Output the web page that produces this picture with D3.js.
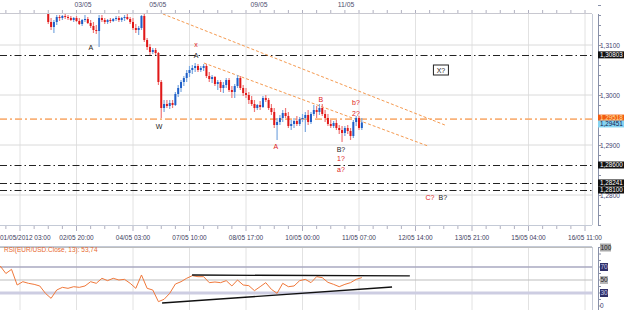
<!DOCTYPE html>
<html>
<head>
<meta charset="utf-8">
<title>EUR/USD</title>
<script src="https://cdnjs.cloudflare.com/ajax/libs/d3/7.8.5/d3.min.js"></script>
<style>
  body { margin: 0; background: #fff; }
  svg { display: block; font-family: "Liberation Sans", Arial, sans-serif; }
</style>
</head>
<body>
<svg id="chart" width="625" height="310"></svg>
<script>
// bar 0 = first grid line (01/05/2012 03:00), 20 bars per grid step
const firstBar = 10;
// [open, high, low, close]
const candles = [
  [1.3180,1.3184,1.3142,1.3146],[1.3146,1.3154,1.3130,1.3136],[1.3136,1.3150,1.3124,1.3146],[1.3146,1.3160,1.3140,1.3156],
  [1.3156,1.3160,1.3148,1.3154],[1.3154,1.3160,1.3150,1.3158],[1.3158,1.3162,1.3152,1.3156],[1.3156,1.3160,1.3150,1.3154],
  [1.3154,1.3158,1.3148,1.3150],[1.3150,1.3156,1.3146,1.3154],[1.3154,1.3158,1.3146,1.3148],[1.3148,1.3154,1.3140,1.3142],
  [1.3142,1.3152,1.3138,1.3150],[1.3150,1.3160,1.3146,1.3152],[1.3152,1.3156,1.3142,1.3144],[1.3144,1.3150,1.3134,1.3138],
  [1.3138,1.3146,1.3124,1.3130],[1.3130,1.3140,1.3122,1.3128],[1.3128,1.3160,1.3096,1.3154],[1.3154,1.3160,1.3146,1.3150],
  [1.3150,1.3154,1.3142,1.3146],[1.3146,1.3152,1.3142,1.3150],[1.3150,1.3154,1.3144,1.3148],[1.3148,1.3154,1.3146,1.3152],
  [1.3152,1.3158,1.3148,1.3154],[1.3154,1.3158,1.3146,1.3150],[1.3150,1.3156,1.3146,1.3154],[1.3154,1.3160,1.3148,1.3156],
  [1.3156,1.3162,1.3150,1.3152],[1.3152,1.3156,1.3142,1.3146],[1.3146,1.3154,1.3130,1.3134],[1.3134,1.3142,1.3124,1.3130],
  [1.3130,1.3138,1.3120,1.3134],[1.3134,1.3160,1.3130,1.3158],[1.3158,1.3162,1.3106,1.3110],[1.3110,1.3114,1.3090,1.3096],
  [1.3096,1.3102,1.3080,1.3086],[1.3086,1.3094,1.3082,1.3090],[1.3090,1.3094,1.3080,1.3084],[1.3084,1.3086,1.3020,1.3026],
  [1.3026,1.3030,1.2954,1.2974],[1.2974,1.2990,1.2966,1.2982],[1.2982,1.2990,1.2974,1.2978],[1.2978,1.2990,1.2972,1.2984],
  [1.2984,1.2990,1.2974,1.2980],[1.2980,1.3006,1.2978,1.3002],[1.3002,1.3020,1.2996,1.3014],[1.3014,1.3030,1.3006,1.3026],
  [1.3026,1.3038,1.3018,1.3034],[1.3034,1.3050,1.3026,1.3044],[1.3044,1.3058,1.3036,1.3050],[1.3050,1.3060,1.3042,1.3054],
  [1.3054,1.3064,1.3046,1.3058],[1.3058,1.3062,1.3046,1.3050],[1.3050,1.3058,1.3046,1.3054],[1.3054,1.3062,1.3048,1.3058],
  [1.3058,1.3062,1.3034,1.3038],[1.3038,1.3046,1.3026,1.3032],[1.3032,1.3040,1.3024,1.3036],[1.3036,1.3038,1.3018,1.3022],
  [1.3022,1.3030,1.3010,1.3026],[1.3026,1.3030,1.3006,1.3014],[1.3014,1.3026,1.3004,1.3020],[1.3020,1.3034,1.3014,1.3030],
  [1.3030,1.3034,1.3006,1.3010],[1.3010,1.3018,1.2994,1.3006],[1.3006,1.3022,1.2994,1.3018],[1.3018,1.3040,1.3014,1.3034],
  [1.3034,1.3038,1.3010,1.3014],[1.3014,1.3020,1.2998,1.3004],[1.3004,1.3014,1.2994,1.3000],[1.3000,1.3006,1.2982,1.2990],
  [1.2990,1.2998,1.2978,1.2982],[1.2982,1.2990,1.2966,1.2974],[1.2974,1.2982,1.2970,1.2980],[1.2980,1.2988,1.2970,1.2976],
  [1.2976,1.2998,1.2974,1.2994],[1.2994,1.3000,1.2986,1.2990],[1.2990,1.2994,1.2970,1.2974],[1.2974,1.2982,1.2960,1.2966],
  [1.2966,1.2974,1.2934,1.2940],[1.2940,1.2954,1.2910,1.2946],[1.2946,1.2960,1.2940,1.2954],[1.2954,1.2970,1.2946,1.2964],
  [1.2964,1.2974,1.2954,1.2958],[1.2958,1.2966,1.2934,1.2938],[1.2938,1.2950,1.2930,1.2942],[1.2942,1.2954,1.2934,1.2948],
  [1.2948,1.2958,1.2938,1.2942],[1.2942,1.2956,1.2938,1.2952],[1.2952,1.2962,1.2946,1.2954],[1.2954,1.2966,1.2926,1.2960],
  [1.2960,1.2970,1.2940,1.2946],[1.2946,1.2966,1.2942,1.2962],[1.2962,1.2980,1.2958,1.2970],[1.2970,1.2978,1.2954,1.2966],
  [1.2966,1.2982,1.2960,1.2974],[1.2974,1.2982,1.2958,1.2962],[1.2962,1.2970,1.2946,1.2954],[1.2954,1.2962,1.2938,1.2942],
  [1.2942,1.2950,1.2934,1.2938],[1.2938,1.2948,1.2934,1.2944],[1.2944,1.2950,1.2930,1.2934],[1.2934,1.2940,1.2922,1.2930],
  [1.2930,1.2938,1.2906,1.2924],[1.2924,1.2938,1.2918,1.2934],[1.2934,1.2940,1.2922,1.2928],[1.2928,1.2934,1.2910,1.2918],
  [1.2918,1.2950,1.2914,1.2946],[1.2946,1.2958,1.2938,1.2954],[1.2954,1.2958,1.2930,1.2934],[1.2934,1.2954,1.2930,1.2945]
];

// RSI(13) sampled every 2 bars starting at bar -7
const rsiStart = -7;
const rsiStep = 2;
const rsiValues = [
  71.5,60,66.4,42.3,47.4,44.9,43.3,40.8,29.5,21.8,34.6,38.7,37.2,39.7,38.7,40.8,
  47.4,44.9,52.6,49,52.6,50,51,44.9,37.2,57.7,37.2,34.6,16.7,20.3,29.5,43.8,
  47.4,52.6,56.7,55.1,55.1,45.9,46.9,45.9,49,40.8,50,42.3,41.3,33.6,39.7,45.9,
  35.6,29.5,44.9,39.7,40.8,49,51,45.9,55.1,53.6,46.4,43.3,39.7,43.3,45.9,51,53.7
];

const gridLabels = ["01/05/2012 03:00","02/05 20:00","04/05 03:00","07/05 10:00","08/05 17:00",
  "10/05 00:00","11/05 07:00","12/05 14:00","13/05 21:00","15/05 04:00","16/05 11:00"];
const topLabels = [[22.3,"03/05"],[48.8,"05/05"],[84.6,"09/05"],[115.4,"11/05"]];
const priceTicks = [1.31,1.30,1.29,1.28];
const levels = [1.30803,1.28600,1.28241,1.28100];
const pivotLevel = 1.29518;
const lastPrice = 1.29451;
const trendUpper = [[50.6,1.3162],[150.4,1.2940]];
const trendLower = [[65.1,1.3064],[144.4,1.2898]];
// [bar, price, text, colour]
const waveLabels = [
  [25.1,1.3096,"A","#222"],[62.3,1.3101,"x","#e02020"],[62.3,1.3080,"A","#222"],
  [49.2,1.2938,"W","#222"],[90.6,1.2898,"A","#e02020"],[106.5,1.2992,"B","#e02020"],
  [118.9,1.2986,"b?","#e02020"],[118.9,1.2964,"2?","#e02020"],[113.6,1.2892,"B?","#222"],
  [113.6,1.2874,"1?","#e02020"],[113.6,1.2852,"a?","#e02020"],[145.1,1.2796,"C?","#e02020"],
  [149.7,1.2796,"B?","#222"]
];
const boxLabel = [149,1.3050,"X?"];
const rsiLevels = [100,70,50,30];
const rsiTitle = "RSI(EUR/USD.Close, 13): 53,74";
const rsiTrendTop = [[60.9,57.7],[138,56.2]];
const rsiTrendBottom = [[50.3,14.6],[131.7,39.2]];

const svg = d3.select("#chart");
const plotR = 592, axisX = 598;
const x = d3.scaleLinear().domain([0,200]).range([20,585]);
const y = d3.scaleLinear().domain([1.28,1.31]).range([195,45]);
const yr = d3.scaleLinear().domain([0,100]).range([312.5,247.5]);
const fmt = v => v.toFixed(4).replace(".", ",");
const fmt5 = v => v.toFixed(5).replace(".", ",");

svg.append("defs").append("clipPath").attr("id","mainclip")
  .append("rect").attr("x",0).attr("y",14).attr("width",plotR).attr("height",211);

// grids
const grid = d3.range(0,201,20);
svg.selectAll(".vg").data(grid).join("line")
  .attr("x1",d=>x(d)).attr("x2",d=>x(d)).attr("y1",14).attr("y2",225)
  .attr("stroke","#e2e2e2");
svg.selectAll(".vg2").data(grid).join("line")
  .attr("x1",d=>x(d)).attr("x2",d=>x(d)).attr("y1",247).attr("y2",310)
  .attr("stroke","#e2e2e2");
svg.selectAll(".hg").data(priceTicks).join("line")
  .attr("x1",0).attr("x2",plotR).attr("y1",d=>y(d)).attr("y2",d=>y(d))
  .attr("stroke","#dadada");

// frames
svg.append("line").attr("x1",0).attr("x2",plotR).attr("y1",13.5).attr("y2",13.5).attr("stroke","#c8c8d0");
svg.append("line").attr("x1",plotR+.5).attr("x2",plotR+.5).attr("y1",14).attr("y2",225).attr("stroke","#c4cad6");
svg.append("line").attr("x1",0).attr("x2",plotR).attr("y1",225.5).attr("y2",225.5).attr("stroke","#c4cad6");
svg.append("line").attr("x1",0).attr("x2",plotR).attr("y1",246.5).attr("y2",246.5).attr("stroke","#c4cad6");
svg.append("line").attr("x1",plotR+.5).attr("x2",plotR+.5).attr("y1",247).attr("y2",310).attr("stroke","#c4cad6");

// top ticks and labels
const minor = d3.range(-5,205,5);
svg.selectAll(".tt").data(minor).join("line")
  .attr("x1",d=>x(d)).attr("x2",d=>x(d)).attr("y1",10).attr("y2",13)
  .attr("stroke","#b0b0c0");
svg.selectAll(".tl").data(topLabels).join("text")
  .attr("x",d=>x(d[0])).attr("y",7).attr("text-anchor","middle")
  .attr("font-size",6.8).attr("fill","#505070").text(d=>d[1]);

// bottom ticks and labels
svg.selectAll(".bt").data(minor).join("line")
  .attr("x1",d=>x(d)).attr("x2",d=>x(d)).attr("y1",226).attr("y2",d=>d%20===0?231:229)
  .attr("stroke","#b0b0c0");
svg.selectAll(".bl").data(gridLabels).join("text")
  .attr("x",(d,i)=>i===0?0:x(i*20)).attr("y",240).attr("text-anchor",(d,i)=>i===0?"start":"middle")
  .attr("font-size",6.5).attr("fill","#404060").text(d=>d);

// right axis
svg.append("line").attr("x1",axisX+.5).attr("x2",axisX+.5).attr("y1",14).attr("y2",225).attr("stroke","#8890a8");
svg.selectAll(".rt").data(d3.range(1.2740,1.3181,0.002)).join("line")
  .attr("x1",axisX).attr("x2",axisX+3).attr("y1",d=>Math.round(y(d))+.5).attr("y2",d=>Math.round(y(d))+.5)
  .attr("stroke","#8890a8");
svg.selectAll(".rl").data(priceTicks).join("text")
  .attr("x",axisX+2).attr("y",d=>y(d)+2.5).attr("font-size",6.5).attr("fill","#404070").text(fmt);

const main = svg.append("g").attr("clip-path","url(#mainclip)");

// horizontal levels
main.selectAll(".lv").data(levels).join("line")
  .attr("x1",0).attr("x2",plotR).attr("y1",d=>Math.round(y(d))+.5).attr("y2",d=>Math.round(y(d))+.5)
  .attr("stroke","#222").attr("stroke-dasharray","7,3,1.5,3");
main.append("line").attr("x1",0).attr("x2",plotR).attr("y1",y(pivotLevel)).attr("y2",y(pivotLevel))
  .attr("stroke","#f9b27a").attr("stroke-width",1.6).attr("stroke-dasharray","7,3,2,3");

// trend lines
[trendUpper,trendLower].forEach(t => {
  main.append("line").attr("x1",x(t[0][0])).attr("y1",y(t[0][1])).attr("x2",x(t[1][0])).attr("y2",y(t[1][1]))
    .attr("stroke","#f59a50").attr("stroke-width",1).attr("stroke-dasharray","3,2");
});

// candles
const bars = candles.map((c,i)=>({b:firstBar+i,o:c[0],h:c[1],l:c[2],c:c[3]}));
main.selectAll(".wk").data(bars).join("line")
  .attr("x1",d=>x(d.b)).attr("x2",d=>x(d.b)).attr("y1",d=>y(d.h)).attr("y2",d=>y(d.l))
  .attr("stroke",d=>d.c>=d.o?"#7aa8e0":"#f07878").attr("stroke-width",1.2);
main.selectAll(".bd").data(bars).join("rect")
  .attr("x",d=>x(d.b)-1).attr("width",2)
  .attr("y",d=>y(Math.max(d.o,d.c))).attr("height",d=>Math.max(1,Math.abs(y(d.o)-y(d.c))))
  .attr("fill",d=>d.c>=d.o?"#1f5fc8":"#e01818");

// wave labels
svg.selectAll(".wl").data(waveLabels).join("text")
  .attr("x",d=>x(d[0])).attr("y",d=>y(d[1])+2.5).attr("text-anchor","middle")
  .attr("font-size",7).attr("fill",d=>d[3]).text(d=>d[2]);
const bx = x(boxLabel[0]), by = y(boxLabel[1]);
svg.append("rect").attr("x",bx-7.5).attr("y",by-5).attr("width",15).attr("height",10)
  .attr("fill","#fff").attr("stroke","#222");
svg.append("text").attr("x",bx).attr("y",by+2.5).attr("text-anchor","middle")
  .attr("font-size",7).attr("fill","#222").text(boxLabel[2]);

// right price boxes
const boxes = levels.map(v=>({v, bg:"#111", fg:"#fff", dy:0}))
  .concat([{v:pivotLevel,bg:"#f25c12",fg:"#ffe0a0",dy:-1},{v:lastPrice,bg:"#86d4f2",fg:"#102050",dy:1.5}]);
const bg = svg.selectAll(".pb").data(boxes).join("g")
  .attr("transform",d=>`translate(${axisX},${y(d.v)+d.dy})`);
bg.append("rect").attr("x",0).attr("y",-3.5).attr("width",26).attr("height",7).attr("fill",d=>d.bg);
bg.append("text").attr("x",2).attr("y",2.3).attr("font-size",6.3).attr("fill",d=>d.fg).text(d=>fmt5(d.v));

// RSI panel
svg.selectAll(".rlv").data(rsiLevels).join("line")
  .attr("x1",0).attr("x2",plotR).attr("y1",d=>yr(d)).attr("y2",d=>yr(d))
  .attr("stroke",d=>d===30?"#cdcde2":d===70?"#a8a8c0":"#bdbdbd")
  .attr("stroke-width",d=>d===30?3:d===70?1.6:1.2);
const rsiPts = rsiValues.map((v,i)=>[rsiStart+i*rsiStep,v]);
svg.append("path").datum(rsiPts)
  .attr("d",d3.line().x(d=>x(d[0])).y(d=>yr(d[1])))
  .attr("fill","none").attr("stroke","#f0783a").attr("stroke-width",1);
[rsiTrendTop,rsiTrendBottom].forEach(t=>{
  svg.append("line").attr("x1",x(t[0][0])).attr("y1",yr(t[0][1])).attr("x2",x(t[1][0])).attr("y2",yr(t[1][1]))
    .attr("stroke","#111").attr("stroke-width",1.3);
});
svg.append("text").attr("x",4).attr("y",252).attr("font-size",6.5).attr("fill","#e86a30").text(rsiTitle);

svg.append("line").attr("x1",axisX+.5).attr("x2",axisX+.5).attr("y1",247).attr("y2",310).attr("stroke","#8890a8");
svg.selectAll(".rrt").data(d3.range(0,101,10)).join("line")
  .attr("x1",axisX).attr("x2",axisX+3).attr("y1",d=>yr(d)).attr("y2",d=>yr(d)).attr("stroke","#8890a8");
const rsiBox = {100:["#a8a8a8","#222"],70:["#303068","#c8c8e8"],50:["#b8b8b8","#222"],30:["#303068","#c8c8e8"]};
const rb = svg.selectAll(".rb").data(rsiLevels).join("g").attr("transform",d=>`translate(${axisX+2},${yr(d)})`);
rb.append("rect").attr("x",0).attr("y",-4).attr("width",d=>d===100?11:8).attr("height",8).attr("fill",d=>rsiBox[d][0]);
rb.append("text").attr("x",0.5).attr("y",2.3).attr("font-size",6.5).attr("fill",d=>rsiBox[d][1]).text(d=>d);
svg.append("text").attr("x",axisX+2).attr("y",308).attr("font-size",6.5).attr("fill","#404070").text("0");
</script>
</body>
</html>
